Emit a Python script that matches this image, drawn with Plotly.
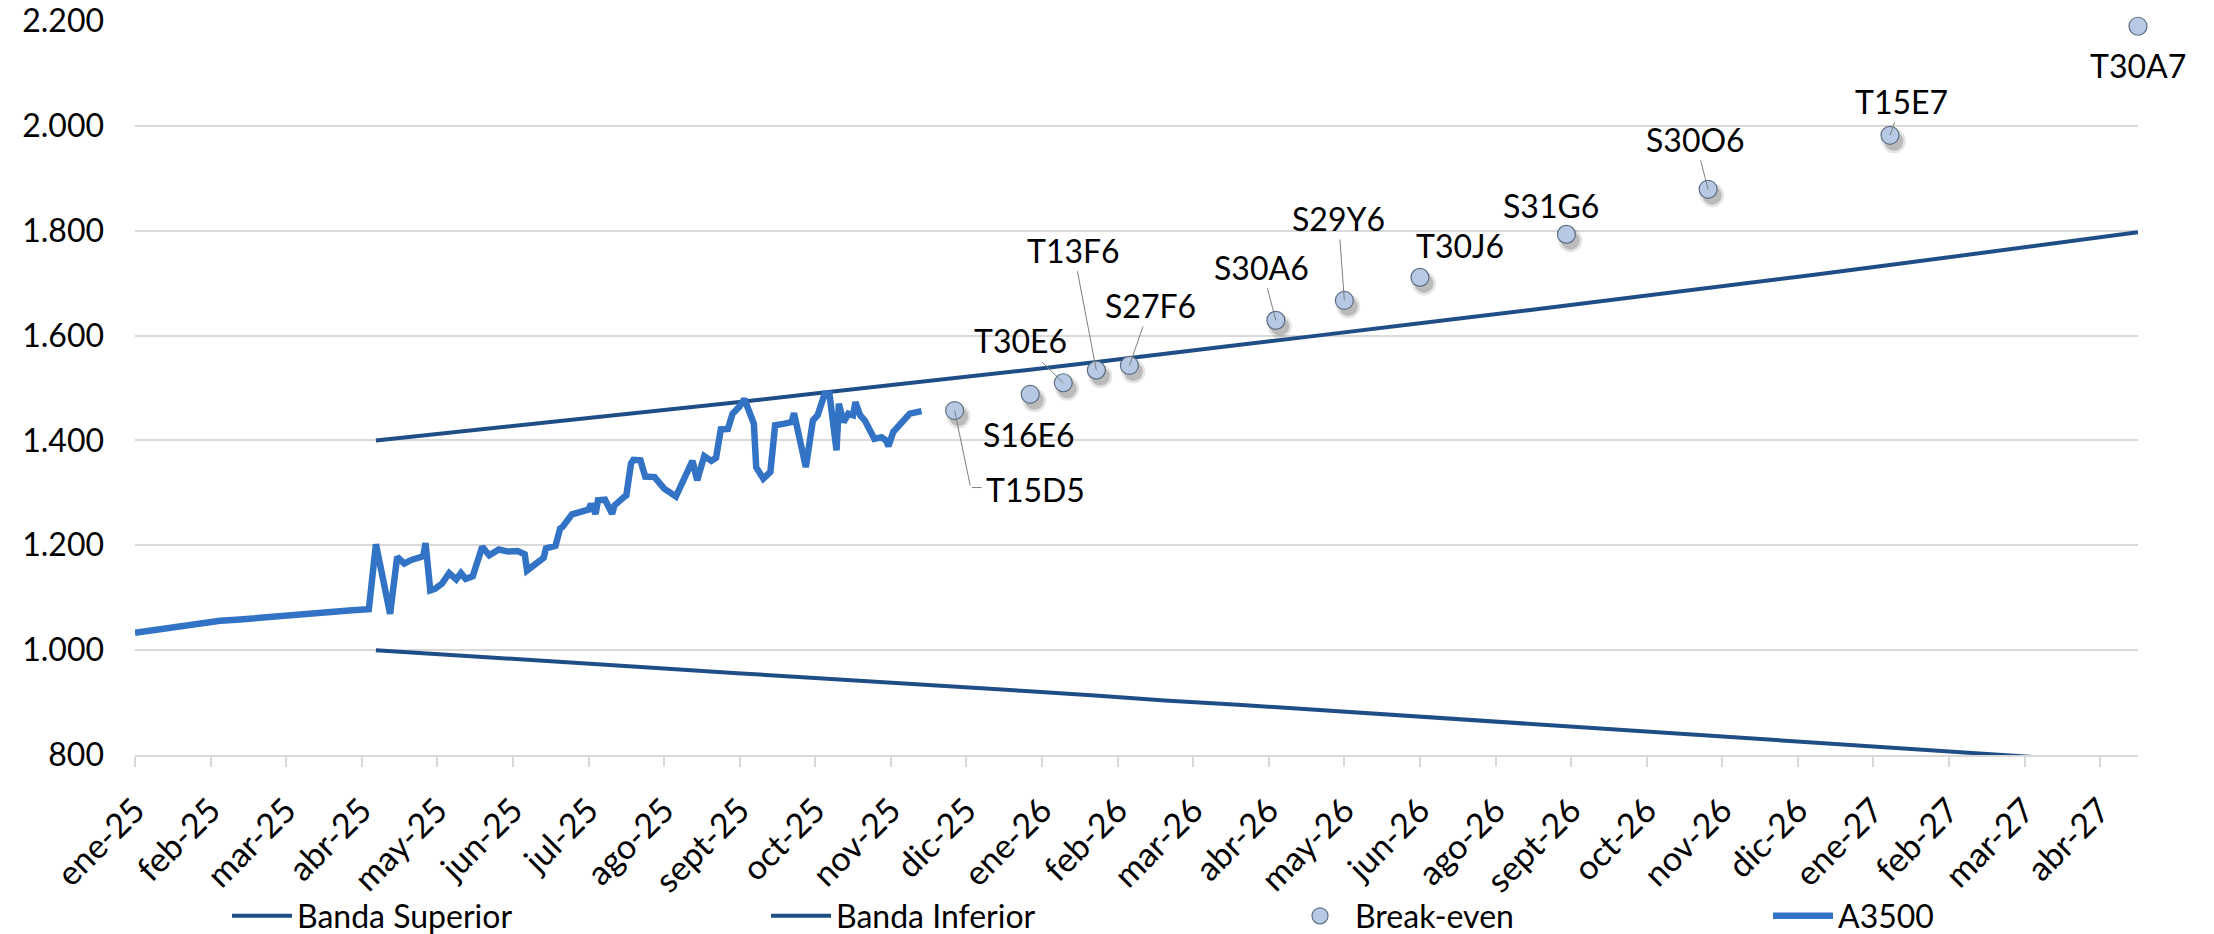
import pandas as pd
import plotly.graph_objects as go

# ---------------- data ----------------
tick_dates = ["2025-01-02", "2025-02-03", "2025-03-07", "2025-04-08", "2025-05-10", "2025-06-11",
              "2025-07-13", "2025-08-14", "2025-09-15", "2025-10-17", "2025-11-18", "2025-12-20",
              "2026-01-21", "2026-02-22", "2026-03-26", "2026-04-27", "2026-05-29", "2026-06-30",
              "2026-08-01", "2026-09-02", "2026-10-04", "2026-11-05", "2026-12-07", "2027-01-08",
              "2027-02-09", "2027-03-13", "2027-04-14"]
tick_labels = ["ene-25", "feb-25", "mar-25", "abr-25", "may-25", "jun-25", "jul-25", "ago-25",
               "sept-25", "oct-25", "nov-25", "dic-25", "ene-26", "feb-26", "mar-26", "abr-26",
               "may-26", "jun-26", "ago-26", "sept-26", "oct-26", "nov-26", "dic-26", "ene-27",
               "feb-27", "mar-27", "abr-27"]

band_dates = ["2025-04-14", "2025-05-14", "2025-06-14", "2025-07-14", "2025-08-14", "2025-09-14",
              "2025-10-14", "2025-11-14", "2025-12-14", "2026-01-14", "2026-02-14", "2026-03-14",
              "2026-04-14", "2026-05-14", "2026-06-14", "2026-07-14", "2026-08-14", "2026-09-14",
              "2026-10-14", "2026-11-14", "2026-12-14", "2027-01-14", "2027-02-14", "2027-03-14",
              "2027-04-14", "2027-04-30"]
banda_superior = [1400, 1414, 1429, 1443, 1458, 1473, 1488, 1503, 1519, 1534, 1550, 1566, 1582,
                  1598, 1614, 1631, 1648, 1665, 1682, 1699, 1716, 1734, 1752, 1770, 1788, 1797]
banda_inferior = [1000, 991, 983, 974, 965, 956, 948, 939, 930, 922, 913, 904, 896,
                  887, 878, 869, 860, 851, 842, 833, 824, 815, 806, 797, 788, 783]

be_labels = ["T15D5", "S16E6", "T30E6", "T13F6", "S27F6", "S30A6", "S29Y6", "T30J6",
             "S31G6", "S30O6", "T15E7", "T30A7"]
be_dates = ["2025-12-15", "2026-01-16", "2026-01-30", "2026-02-13", "2026-02-27", "2026-04-30",
            "2026-05-29", "2026-06-30", "2026-08-31", "2026-10-30", "2027-01-15", "2027-04-30"]
be_values = [1457, 1488, 1510, 1534, 1543, 1629, 1667, 1711, 1793, 1879, 1982, 2190]

a3500_dates = ["2025-01-02", "2025-01-10", "2025-01-17", "2025-01-24", "2025-01-31", "2025-02-07",
               "2025-02-14", "2025-02-21", "2025-02-28", "2025-03-07", "2025-03-14", "2025-03-21",
               "2025-03-28", "2025-04-04", "2025-04-11", "2025-04-14", "2025-04-20", "2025-04-23",
               "2025-04-26", "2025-04-29", "2025-05-04", "2025-05-05", "2025-05-07", "2025-05-09",
               "2025-05-12", "2025-05-15", "2025-05-18", "2025-05-20", "2025-05-22", "2025-05-25",
               "2025-05-29", "2025-06-01", "2025-06-05", "2025-06-09", "2025-06-13", "2025-06-16",
               "2025-06-17", "2025-06-22", "2025-06-24", "2025-06-25", "2025-06-29", "2025-07-01",
               "2025-07-02", "2025-07-06", "2025-07-10", "2025-07-13", "2025-07-14", "2025-07-16",
               "2025-07-17", "2025-07-20", "2025-07-23", "2025-07-24", "2025-07-28", "2025-07-29",
               "2025-07-31", "2025-08-01", "2025-08-04", "2025-08-06", "2025-08-10", "2025-08-14",
               "2025-08-19", "2025-08-22", "2025-08-26", "2025-08-28", "2025-08-31", "2025-09-03",
               "2025-09-05", "2025-09-07", "2025-09-10", "2025-09-12", "2025-09-15", "2025-09-17",
               "2025-09-21", "2025-09-22", "2025-09-25", "2025-09-28", "2025-09-30", "2025-10-04",
               "2025-10-07", "2025-10-08", "2025-10-13", "2025-10-16", "2025-10-18", "2025-10-21",
               "2025-10-23", "2025-10-26", "2025-10-27", "2025-10-29", "2025-10-31", "2025-11-02",
               "2025-11-03", "2025-11-05", "2025-11-07", "2025-11-11", "2025-11-14", "2025-11-16",
               "2025-11-17", "2025-11-19", "2025-11-23", "2025-11-26", "2025-11-29", "2025-12-01"]
a3500_values = [1033, 1038, 1043, 1048, 1053, 1056, 1058, 1061, 1064, 1066, 1068, 1071,
                1073, 1076, 1078, 1202, 1069, 1178, 1165, 1172, 1179, 1204, 1114, 1117,
                1127, 1147, 1135, 1147, 1136, 1141, 1197, 1181, 1192, 1188, 1189, 1183,
                1152, 1168, 1176, 1194, 1199, 1232, 1235, 1259, 1263, 1268, 1279, 1260,
                1286, 1287, 1260, 1276, 1292, 1295, 1356, 1363, 1362, 1331, 1330, 1308,
                1293, 1324, 1361, 1324, 1370, 1361, 1367, 1421, 1422, 1451, 1465, 1479,
                1432, 1349, 1327, 1340, 1429, 1432, 1435, 1452, 1349, 1438, 1448, 1489,
                1489, 1381, 1470, 1435, 1451, 1448, 1473, 1448, 1438, 1403, 1406, 1400,
                1389, 1416, 1435, 1451, 1454, 1456]

# ---------------- layout constants ----------------
W, H = 2214, 934
ML, MR, MT, MB = 135, 76, 21, 179
x_start, x_end = "2025-01-02", "2027-04-30"
y_min, y_max = 800, 2200
FONT = "Lato"
BAND_COLOR = "#1F4E86"
LINE_COLOR = "#3373C6"
GRID = "#D9D9D9"
LEADER = "#7F7F7F"
LEG_ITEMW = 60

# label offsets (pixels, label centre relative to point) and leader-line style
# leader: None (no line), "straight", or "elbow"
label_style = {
    "T15D5": (81, 79, "elbow"), "S16E6": (-1, 40, None), "T30E6": (-43, -42, "straight"),
    "T13F6": (-23, -120, "straight"), "S27F6": (21, -60, "straight"), "S30A6": (-14, -53, "straight"),
    "S29Y6": (-6, -82, "straight"), "T30J6": (40, -32, None), "S31G6": (-15, -29, None),
    "S30O6": (-13, -50, "straight"), "T15E7": (12, -34, "straight"), "T30A7": (0, 39, None),
}
ELBOW_CORNER = (16, 77)   # px from point to the leader's corner
ELBOW_TAIL = 11           # horizontal run of the leader after the corner

plot_w = W - ML - MR
plot_h = H - MT - MB
t0, t1 = pd.Timestamp(x_start), pd.Timestamp(x_end)
span = t1 - t0
# shadow offset (px) expressed as axis shifts
sh_dx, sh_dy = 4, 6
x_shift = span * (sh_dx / plot_w)
y_shift = (y_max - y_min) * (sh_dy / plot_h)

fig = go.Figure()

fig.add_trace(go.Scatter(x=band_dates, y=banda_superior, mode="lines", name="Banda Superior",
                         line=dict(color=BAND_COLOR, width=4), legend="legend",
                         hoverinfo="skip"))
fig.add_trace(go.Scatter(x=band_dates, y=banda_inferior, mode="lines", name="Banda Inferior",
                         line=dict(color=BAND_COLOR, width=4), legend="legend2",
                         hoverinfo="skip"))
fig.add_trace(go.Scatter(x=a3500_dates, y=a3500_values, mode="lines", name="A3500",
                         line=dict(color=LINE_COLOR, width=6.5), legend="legend4"))

# soft shadow of the break-even markers
fig.add_trace(go.Scatter(x=be_dates, y=be_values, mode="markers", xaxis="x2", yaxis="y2",
                         marker=dict(size=24, color="rgba(0,0,0,0.10)", line=dict(width=0)),
                         showlegend=False, hoverinfo="skip", cliponaxis=False))
fig.add_trace(go.Scatter(x=be_dates, y=be_values, mode="markers", xaxis="x2", yaxis="y2",
                         marker=dict(size=19, color="rgba(0,0,0,0.18)", line=dict(width=0)),
                         showlegend=False, hoverinfo="skip", cliponaxis=False))
# break-even markers
fig.add_trace(go.Scatter(x=be_dates, y=be_values, mode="markers", name="Break-even",
                         xaxis="x3", yaxis="y3", text=be_labels,
                         marker=dict(size=18, color="#B7C9E5", line=dict(color="#5E6E80", width=1.2)),
                         legend="legend3", cliponaxis=False))

label_font = dict(family=FONT, size=32, color="#000000")
annotations = []
for lab, d, v in zip(be_labels, be_dates, be_values):
    ax, ay, leader = label_style[lab]
    if leader == "straight":
        annotations.append(dict(x=d, y=v, xref="x", yref="y", text=lab, showarrow=True,
                                ax=ax, ay=ay, arrowhead=0, arrowwidth=1, arrowcolor=LEADER,
                                standoff=0, startstandoff=0, font=label_font))
    else:
        annotations.append(dict(x=d, y=v, xref="x", yref="y", text=lab, showarrow=False,
                                xshift=ax, yshift=-ay, font=label_font))
        if leader == "elbow":
            cx, cy = ELBOW_CORNER
            # segment 1: point -> corner
            annotations.append(dict(x=d, y=v, xref="x", yref="y", text=" ", showarrow=True,
                                    ax=cx, ay=cy, arrowhead=0, arrowwidth=1, arrowcolor=LEADER,
                                    standoff=0, startstandoff=0, font=dict(size=1)))
            # segment 2: corner -> towards the label
            annotations.append(dict(x=d, y=v, xref="x", yref="y", text=" ", showarrow=True,
                                    xshift=cx + ELBOW_TAIL, yshift=-cy, ax=-ELBOW_TAIL, ay=0,
                                    arrowhead=0, arrowwidth=1, arrowcolor=LEADER,
                                    standoff=0, startstandoff=0, font=dict(size=1)))

LEG_Y_PX = 916  # vertical centre of legend row (px from top)
def leg(text_px):
    return dict(orientation="h", xref="container", yref="container",
                x=(text_px - LEG_ITEMW - 10) / W, y=1 - LEG_Y_PX / H,
                xanchor="left", yanchor="middle", itemwidth=LEG_ITEMW,
                font=dict(family=FONT, size=32, color="#000000"), bgcolor="rgba(0,0,0,0)",
                itemclick=False, itemdoubleclick=False)

fig.update_layout(
    width=W, height=H,
    margin=dict(l=ML, r=MR, t=MT, b=MB, pad=0, autoexpand=False),
    paper_bgcolor="white", plot_bgcolor="white",
    font=dict(family=FONT, size=32, color="#000000"),
    separators=",.",
    showlegend=True,
    legend=leg(297),
    legend2=leg(836),
    legend3=leg(1355),
    legend4=leg(1838),
    annotations=annotations,
    xaxis=dict(type="date", range=[x_start, x_end], tickmode="array", tickvals=tick_dates,
               ticktext=tick_labels, tickangle=-45, tickfont=dict(family=FONT, size=34, color="#000000"),
               showgrid=False, showline=True, linecolor=GRID, linewidth=1.5,
               ticks="outside", ticklen=10, tickcolor=GRID, tickwidth=1.5,
               zeroline=False, ticklabelstandoff=10, automargin=False),
    yaxis=dict(range=[y_min, y_max], tick0=800, dtick=200, tickformat=",d",
               tickfont=dict(family=FONT, size=32, color="#000000"),
               showgrid=True, gridcolor=GRID, gridwidth=1.5, zeroline=False,
               showline=False, ticks="", ticklabelstandoff=30, automargin=False),
    xaxis2=dict(type="date", overlaying="x", anchor="y2", visible=False,
                range=[t0 - x_shift, t1 - x_shift]),
    yaxis2=dict(overlaying="y", anchor="x2", visible=False,
                range=[y_min + y_shift, y_max + y_shift]),
    xaxis3=dict(type="date", overlaying="x", anchor="y3", visible=False, range=[x_start, x_end]),
    yaxis3=dict(overlaying="y", anchor="x3", visible=False, range=[y_min, y_max]),
)

fig.write_html("out.html", config={"displayModeBar": False},
               post_script="document.body.style.margin='0';document.body.style.overflow='hidden';")
